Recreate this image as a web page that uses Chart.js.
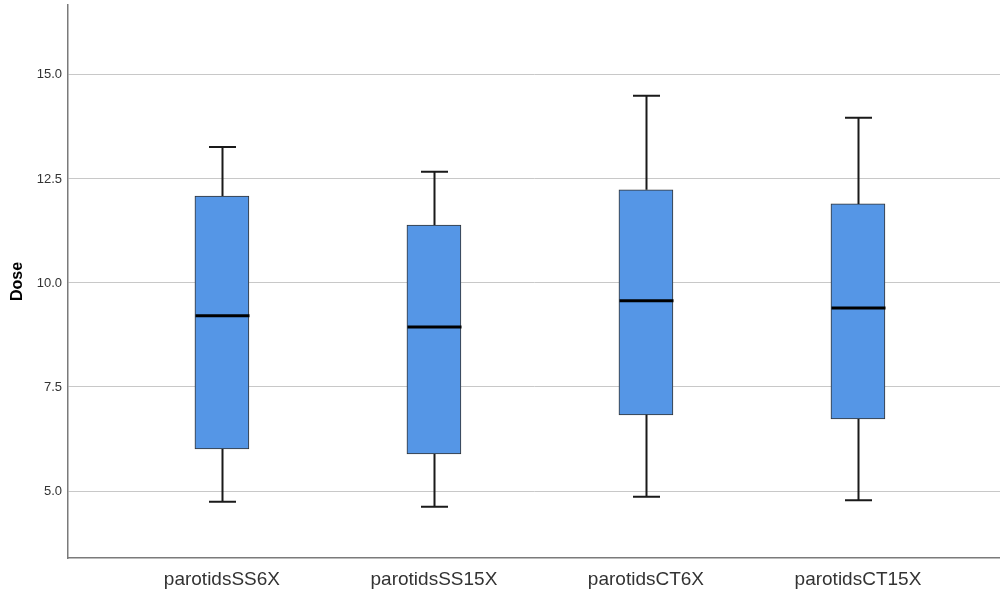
<!DOCTYPE html>
<html>
<head>
<meta charset="utf-8">
<script src="https://cdn.jsdelivr.net/npm/chart.js@4"></script>
<style>
  html, body { margin: 0; padding: 0; background: #fff; }
  #wrap { width: 1000px; height: 596px; }
</style>
</head>
<body>
<div id="wrap"><canvas id="myChart"></canvas></div>
<script>
// values
const categories = ['parotidsSS6X', 'parotidsSS15X', 'parotidsCT6X', 'parotidsCT15X'];
const whiskerMin = [4.74, 4.62, 4.86, 4.78];
const q1 = [6.01, 5.89, 6.83, 6.73];
const median = [9.21, 8.94, 9.57, 9.40];
const q3 = [12.09, 11.39, 12.24, 11.90];
const whiskerMax = [13.27, 12.67, 14.50, 13.97];
const yTicks = [5, 7.5, 10, 12.5, 15];

const FONT = '"Liberation Sans", Arial, sans-serif';

// whiskers, caps and median lines, placed with the chart's scales
const boxExtras = {
    id: 'boxExtras',
    afterDatasetsDraw(chart) {
        const ctx = chart.ctx;
        const xs = chart.scales.x, ys = chart.scales.y;
        ctx.save();
        categories.forEach((c, i) => {
            const x = Math.round(xs.getPixelForValue(i + 1)) + 0.5;
            const yMin = ys.getPixelForValue(whiskerMin[i]);
            const yQ1 = ys.getPixelForValue(q1[i]);
            const yQ3 = ys.getPixelForValue(q3[i]);
            const yMax = ys.getPixelForValue(whiskerMax[i]);
            const yMed = ys.getPixelForValue(median[i]);
            ctx.strokeStyle = '#1a1a1a';
            ctx.lineWidth = 2;
            ctx.beginPath();
            ctx.moveTo(x, yMax); ctx.lineTo(x, yQ3);
            ctx.moveTo(x, yQ1); ctx.lineTo(x, yMin);
            ctx.moveTo(x - 13.5, yMax); ctx.lineTo(x + 13.5, yMax);
            ctx.moveTo(x - 13.5, yMin); ctx.lineTo(x + 13.5, yMin);
            ctx.stroke();
            ctx.strokeStyle = '#000';
            ctx.lineWidth = 3;
            ctx.beginPath();
            ctx.moveTo(x - 27, yMed); ctx.lineTo(x + 27, yMed);
            ctx.stroke();
        });
        ctx.restore();
    }
};

document.addEventListener("DOMContentLoaded", function () {
    const ctx = document.getElementById('myChart').getContext('2d');

    new Chart(ctx, {
        type: 'bar',
        data: {
            datasets: [{
                label: 'Dose',
                data: categories.map((c, i) => ({ x: i + 1, y: [q1[i], q3[i]] })),
                backgroundColor: '#5596e6',
                borderColor: '#333333',
                borderWidth: 1,
                borderSkipped: false,
                barThickness: 54
            }]
        },
        options: {
            responsive: true,
            maintainAspectRatio: false,
            animation: false,
            layout: { padding: { top: 5, right: 0, bottom: 0, left: 0 } },
            plugins: {
                legend: { display: false },
                tooltip: { enabled: false }
            },
            scales: {
                x: {
                    type: 'linear',
                    offset: false,
                    min: 0.274,
                    max: 4.67,
                    grid: { display: false, drawTicks: false, offset: false },
                    border: { display: true, color: '#7a7a7a', width: 1.5 },
                    afterBuildTicks: (scale) => {
                        scale.ticks = categories.map((c, i) => ({ value: i + 1 }));
                    },
                    afterFit: (scale) => {
                        scale.height = 38;
                        scale.paddingLeft = 0;
                        scale.paddingRight = 0;
                    },
                    ticks: {
                        autoSkip: false,
                        maxRotation: 0,
                        padding: 10,
                        color: '#333333',
                        font: { family: FONT, size: 19 },
                        callback: (v) => categories[v - 1]
                    }
                },
                y: {
                    min: 3.39,
                    max: 16.68,
                    grid: { color: '#c8c8c8', lineWidth: 1, drawTicks: false },
                    border: { display: true, color: '#7a7a7a', width: 1.5 },
                    afterBuildTicks: (scale) => {
                        scale.ticks = yTicks.map(v => ({ value: v }));
                    },
                    afterFit: (scale) => {
                        scale.width = 68;
                        scale.paddingTop = 0;
                        scale.paddingBottom = 0;
                    },
                    ticks: {
                        padding: 6,
                        color: '#333333',
                        font: { family: FONT, size: 13 },
                        callback: (v) => v.toFixed(1)
                    },
                    title: {
                        display: true,
                        text: 'Dose',
                        color: '#000',
                        padding: { top: 8, bottom: 0 },
                        font: { family: FONT, size: 16, weight: 'bold' }
                    }
                }
            }
        },
        plugins: [boxExtras]
    });
});
</script>
</body>
</html>
